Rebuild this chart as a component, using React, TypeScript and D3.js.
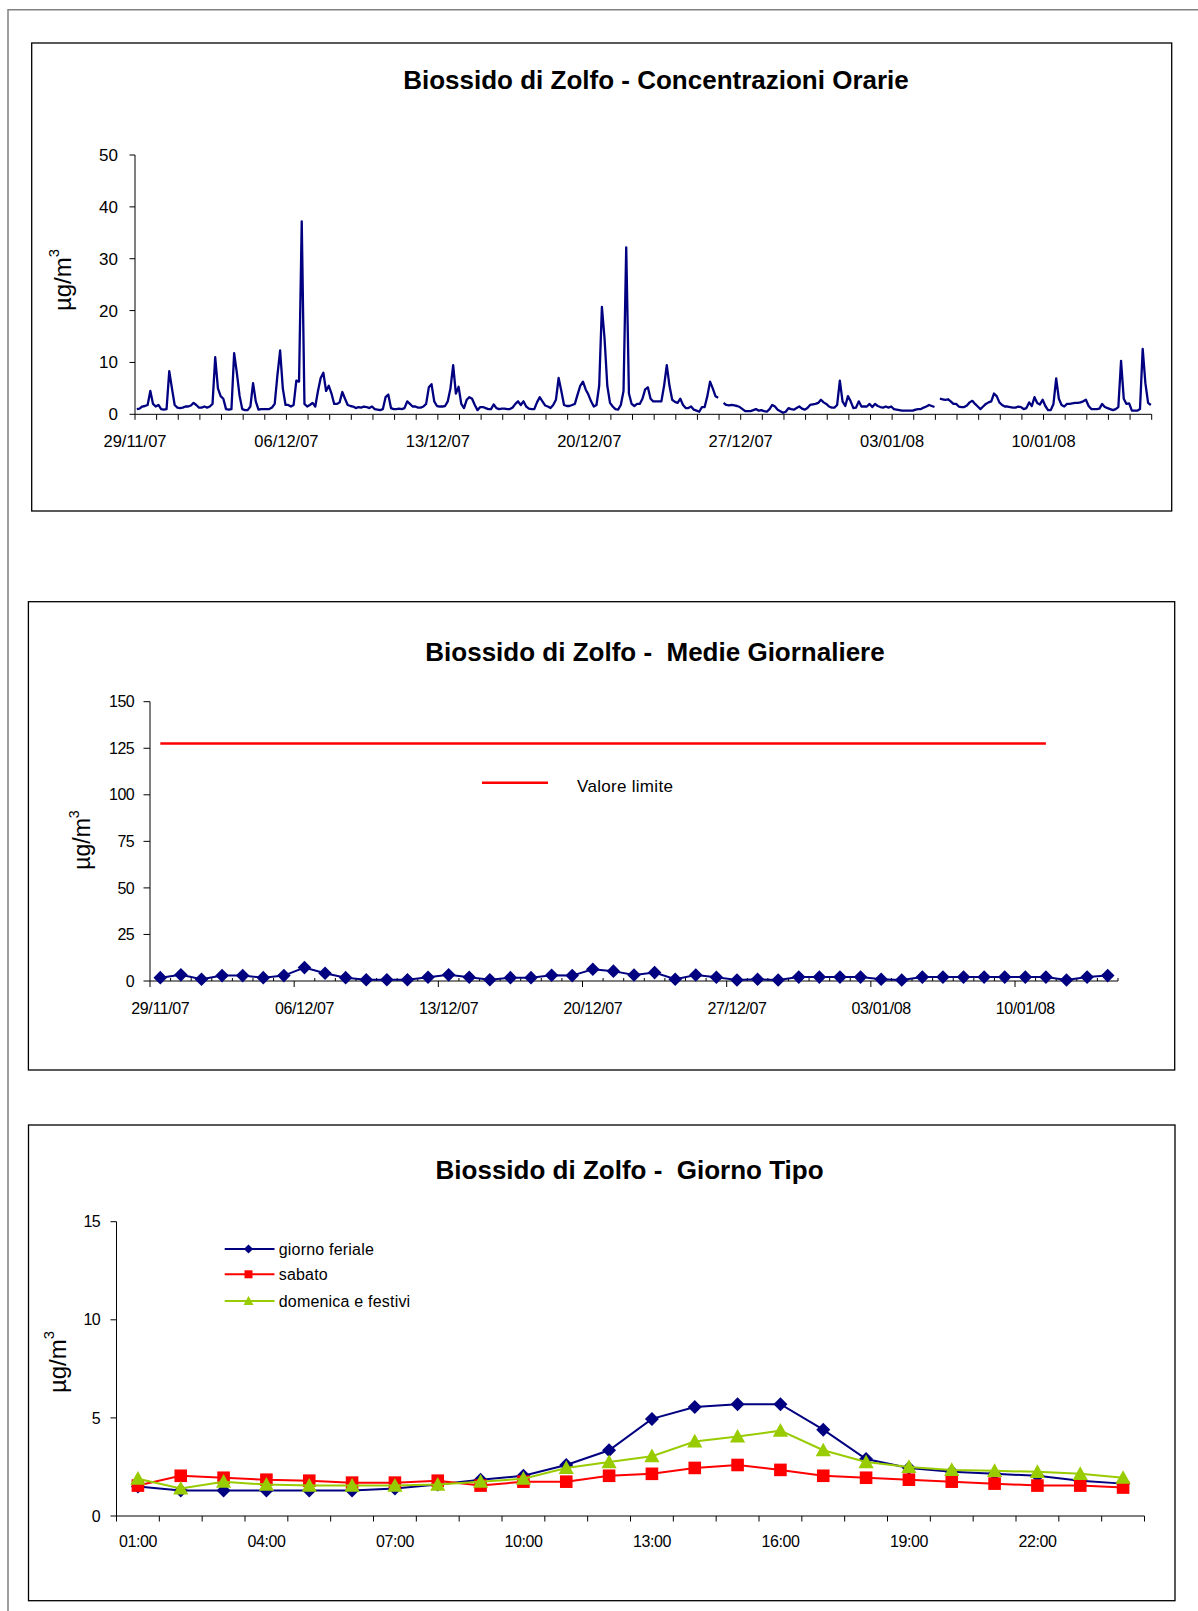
import React from 'react';
import * as d3 from 'd3';

const FONT = "Arial, 'Liberation Sans', Helvetica, sans-serif";

// ---------- DATA ----------
// First day of the series (29/11/2007) and number of days shown
const startDay = new Date(Date.UTC(2007, 10, 29));
const nDays = 47;

// Hourly SO2 (sampled every 3 hours, 8 readings per day), µg/m³; null = missing
const so2ThreeHourly: (number | null)[][] = [
  [1.0, 1.1, 1.5, 1.6, 1.8, 4.5, 2.0, 1.5], // 29/11
  [1.8, 1.0, 0.9, 1.0, 8.3, 5.0, 1.8, 1.3],
  [1.2, 1.3, 1.5, 1.5, 1.7, 2.2, 1.8, 1.3],
  [1.3, 1.5, 1.3, 1.5, 2.0, 11.0, 5.0, 3.5],
  [3.0, 1.0, 0.9, 1.0, 11.8, 8.0, 3.6, 1.0],
  [0.8, 0.8, 1.5, 6.0, 2.5, 0.9, 1.0, 1.0],
  [1.0, 1.0, 1.3, 2.0, 7.5, 12.3, 5.0, 1.8],
  [1.8, 1.5, 1.8, 6.5, 6.3, 37.2, 2.0, 1.5], // 06/12
  [1.8, 2.2, 1.5, 4.5, 7.0, 8.0, 4.5, 5.5],
  [4.0, 2.0, 2.0, 2.3, 4.3, 3.0, 1.8, 1.6],
  [1.5, 1.2, 1.4, 1.3, 1.5, 1.4, 1.2, 1.5],
  [1.0, 0.9, 0.8, 1.0, 3.3, 3.8, 1.2, 1.0],
  [1.0, 1.1, 1.0, 1.2, 2.5, 2.0, 1.5, 1.5],
  [1.3, 1.3, 1.5, 2.0, 5.2, 5.8, 2.5, 1.6],
  [1.5, 1.5, 1.6, 2.5, 5.0, 9.5, 4.0, 5.3], // 13/12
  [2.0, 1.2, 2.8, 3.3, 3.0, 1.8, 0.8, 1.4],
  [1.4, 1.2, 1.0, 1.0, 1.9, 1.2, 1.0, 1.1],
  [1.1, 1.0, 1.0, 1.3, 2.0, 2.5, 1.8, 2.5],
  [1.5, 1.1, 1.0, 1.0, 2.3, 3.3, 2.5, 1.7],
  [1.5, 1.2, 1.8, 2.8, 7.0, 4.5, 1.8, 1.6],
  [1.6, 1.8, 2.0, 3.8, 5.5, 6.3, 4.8, 3.8],
  [2.5, 1.5, 1.8, 5.5, 20.7, 14.5, 5.5, 2.2], // 20/12
  [1.5, 1.0, 0.9, 1.8, 4.5, 32.2, 4.0, 2.0],
  [1.6, 2.0, 2.0, 3.0, 4.8, 5.2, 3.0, 2.5],
  [2.5, 2.5, 2.5, 5.5, 9.5, 5.5, 2.8, 2.4],
  [2.2, 3.0, 1.8, 1.2, 1.2, 1.5, 0.9, 0.7],
  [0.5, 1.4, 1.4, 3.5, 6.3, 5.0, 3.5, 3.2],
  [null, 2.2, 1.8, 1.7, 1.8, 1.7, 1.6, 1.4],
  [1.0, 0.6, 0.6, 0.6, 0.8, 1.0, 0.7, 0.8], // 27/12
  [0.6, 0.5, 1.0, 1.8, 1.5, 0.9, 0.6, 0.3],
  [0.5, 1.2, 1.0, 0.9, 1.2, 1.5, 1.1, 0.9],
  [1.2, 1.8, 1.9, 2.0, 2.2, 2.8, 2.3, 2.0],
  [1.5, 1.3, 1.3, 1.8, 6.5, 2.5, 1.6, 3.5],
  [2.5, 1.2, 1.3, 2.5, 1.5, 1.5, 1.5, 2.0],
  [1.4, 2.0, 1.6, 1.4, 1.3, 1.5, 1.3, 1.5],
  [1.0, 0.9, 0.8, 0.7, 0.7, 0.7, 0.7, 0.7], // 03/01
  [0.9, 1.0, 1.0, 1.3, 1.5, 1.8, 1.6, 1.4],
  [null, 3.0, 2.9, 2.8, 2.9, 2.5, 2.0, 2.0],
  [1.5, 1.4, 1.4, 1.7, 2.3, 2.6, 2.0, 1.5],
  [1.0, 1.5, 2.0, 2.3, 2.5, 4.0, 3.5, 2.3],
  [1.8, 1.5, 1.5, 1.4, 1.3, 1.3, 1.5, 1.4],
  [1.0, 1.2, 2.3, 1.6, 3.3, 2.2, 1.9, 2.8],
  [1.6, 0.8, 0.8, 2.0, 6.9, 3.0, 1.8, 1.5], // 10/01
  [2.0, 2.0, 2.1, 2.2, 2.2, 2.3, 2.5, 2.8],
  [1.6, 1.0, 1.0, 1.0, 1.1, 2.0, 1.4, 1.2],
  [1.0, 0.8, 1.0, 1.4, 10.3, 3.0, 2.0, 2.1],
  [0.7, 0.7, 0.7, 1.0, 12.6, 6.0, 2.2, 1.8],
];
const hourlyTicks = [0, 10, 20, 30, 40, 50];

// Daily means (one per day, starting 29/11/2007)
const dailyMeans = [
  1.8, 3.3, 0.9, 2.9, 2.9, 1.8, 2.9, 7.2, 4.2, 1.8, 0.7, 0.7, 0.7, 2.0, 3.3, 2.0,
  0.7, 1.8, 1.8, 3.1, 2.9, 6.3, 5.3, 3.2, 4.5, 0.9, 3.2, 2.0, 0.5, 0.9, 0.5, 2.1,
  2.1, 2.1, 2.1, 0.9, 0.5, 2.1, 2.1, 2.1, 2.1, 2.1, 2.1, 2.1, 0.5, 2.1, 2.9,
];
const limitValue = 127.5;
const limitDays = 44;
const dailyTicks = [0, 25, 50, 75, 100, 125, 150];

// Typical day
const hourLabels = [
  '01:00', '02:00', '03:00', '04:00', '05:00', '06:00', '07:00', '08:00',
  '09:00', '10:00', '11:00', '12:00', '13:00', '14:00', '15:00', '16:00',
  '17:00', '18:00', '19:00', '20:00', '21:00', '22:00', '23:00', '24:00',
];
const feriale = [1.5, 1.3, 1.3, 1.3, 1.3, 1.3, 1.4, 1.6, 1.85, 2.05, 2.6, 3.35, 4.95, 5.55, 5.7, 5.7, 4.4, 2.9, 2.45, 2.25, 2.15, 2.05, 1.8, 1.65];
const sabato = [1.55, 2.05, 1.95, 1.85, 1.8, 1.7, 1.7, 1.8, 1.55, 1.75, 1.75, 2.05, 2.15, 2.45, 2.6, 2.35, 2.05, 1.95, 1.85, 1.75, 1.65, 1.55, 1.55, 1.45];
const domenica = [1.9, 1.4, 1.75, 1.6, 1.55, 1.55, 1.55, 1.6, 1.75, 1.9, 2.45, 2.75, 3.05, 3.8, 4.05, 4.35, 3.35, 2.75, 2.5, 2.35, 2.3, 2.25, 2.15, 1.95];
const typicalTicks = [0, 5, 10, 15];
const seriesNames = ['giorno feriale', 'sabato', 'domenica e festivi'];

// ---------- STYLE ----------
const NAVY = '#000080';
const RED = '#FF0000';
const GREEN = '#99CC00';
const fmtDate = d3.utcFormat('%d/%m/%y');

const diamond = (r: number) => `M0,${-r}L${r},0L0,${r}L${-r},0Z`;
const square = (r: number) => `M${-r},${-r}H${r}V${r}H${-r}Z`;
const triangle = (r: number) => `M0,${-r}L${r},${r * 0.8}L${-r},${r * 0.8}Z`;

function YLabel({ x, y, size }: { x: number; y: number; size: number }) {
  return (
    <text transform={`translate(${x},${y}) rotate(-90)`} textAnchor="middle" fontSize={size} fill="#000">
      µg/m<tspan dy={-size * 0.5} fontSize={size * 0.62}>3</tspan>
    </text>
  );
}

const pre = { whiteSpace: 'pre' as const };

function HourlyChart() {
  const endDay = d3.utcDay.offset(startDay, nDays);
  const x = d3.scaleUtc().domain([startDay, endDay]).range([135, 1151.7]);
  const y = d3.scaleLinear().domain([0, 50]).range([414.3, 155]);
  const pts: { t: Date; v: number | null }[] = [];
  so2ThreeHourly.forEach((day, d) =>
    day.forEach((v, k) => {
      pts.push({ t: d3.utcHour.offset(d3.utcDay.offset(startDay, d), 3 * k + 2), v });
    })
  );
  const line = d3
    .line<{ t: Date; v: number | null }>()
    .defined((p) => p.v != null)
    .x((p) => x(p.t))
    .y((p) => y(p.v as number));
  const dayTicks = d3.utcDay.range(startDay, d3.utcDay.offset(endDay, 1));
  const y0 = y(0);
  return (
    <g>
      <rect x={31.7} y={43} width={1140} height={468} fill="none" stroke="#000" strokeWidth={1.3} />
      <text x={656} y={80} textAnchor="middle" dy="0.35em" fontSize={26} fontWeight="bold" style={pre}>
        Biossido di Zolfo - Concentrazioni Orarie
      </text>
      <YLabel x={71} y={280} size={24} />
      <line x1={135} x2={135} y1={y(50)} y2={y0} stroke="#000" />
      {hourlyTicks.map((t) => (
        <g key={t}>
          <line x1={129.5} x2={135} y1={y(t)} y2={y(t)} stroke="#000" />
          <text x={118} y={y(t)} dy="0.35em" textAnchor="end" fontSize={17}>{t}</text>
        </g>
      ))}
      <line x1={135} x2={x(endDay)} y1={y0} y2={y0} stroke="#000" />
      {dayTicks.map((t, i) => (
        <g key={i}>
          <line x1={x(t)} x2={x(t)} y1={y0} y2={y0 + 5.5} stroke="#000" />
          {i % 7 === 0 && i < nDays ? (
            <text x={x(t)} y={441.7} dy="0.35em" textAnchor="middle" fontSize={16.5}>{fmtDate(t)}</text>
          ) : null}
        </g>
      ))}
      <path d={line(pts) || ''} fill="none" stroke={NAVY} strokeWidth={2.3} strokeLinejoin="round" />
    </g>
  );
}

function DailyChart() {
  const idx = dailyMeans.map((_, i) => i);
  const x = d3.scalePoint<number>().domain(idx).range([150, 1118]).padding(0.5);
  const step = x.step();
  const y = d3.scaleLinear().domain([0, 150]).range([981, 701.7]);
  const y0 = y(0);
  const dates = idx.map((i) => d3.utcDay.offset(startDay, i));
  const line = d3
    .line<number>()
    .x((_, i) => x(i) as number)
    .y((v) => y(v));
  const limitPts = d3.range(limitDays).map(() => limitValue);
  return (
    <g>
      <rect x={28.4} y={601.7} width={1146.3} height={468.3} fill="none" stroke="#000" strokeWidth={1.3} />
      <text x={655} y={651.7} textAnchor="middle" dy="0.35em" fontSize={26} fontWeight="bold" style={pre}>
        Biossido di Zolfo -  Medie Giornaliere
      </text>
      <YLabel x={90} y={840} size={23} />
      <line x1={150} x2={150} y1={y(150)} y2={y0} stroke="#000" />
      {dailyTicks.map((t) => (
        <g key={t}>
          <line x1={143.5} x2={150} y1={y(t)} y2={y(t)} stroke="#000" />
          <text x={134} y={y(t)} dy="0.35em" textAnchor="end" fontSize={16} letterSpacing={-0.6}>{t}</text>
        </g>
      ))}
      <line x1={150} x2={150 + step * dailyMeans.length} y1={y0} y2={y0} stroke="#000" />
      {d3.range(dailyMeans.length + 1).map((i) => {
        const bx = 150 + step * i;
        return i % 7 === 0 ? (
          <line key={i} x1={bx} x2={bx} y1={y0} y2={y0 + 6} stroke="#000" />
        ) : (
          <line key={i} x1={bx} x2={bx} y1={y0 - 3} y2={y0} stroke="#000" />
        );
      })}
      {idx
        .filter((i) => i % 7 === 0)
        .map((i) => (
          <text key={i} x={x(i)} y={1008.3} dy="0.35em" textAnchor="middle" fontSize={16} letterSpacing={-0.4}>
            {fmtDate(dates[i])}
          </text>
        ))}
      <path d={line(limitPts) || ''} fill="none" stroke={RED} strokeWidth={2.5} />
      <line x1={482} x2={548} y1={782.7} y2={782.7} stroke={RED} strokeWidth={2.5} />
      <text x={577} y={786} dy="0.35em" fontSize={17} letterSpacing={0.3}>Valore limite</text>
      <path d={line(dailyMeans) || ''} fill="none" stroke={NAVY} strokeWidth={2} />
      {dailyMeans.map((v, i) => (
        <path key={i} d={diamond(6.8)} transform={`translate(${x(i)},${y(v)})`} fill={NAVY} />
      ))}
    </g>
  );
}

function TypicalDayChart() {
  const x = d3.scalePoint<string>().domain(hourLabels).range([116.5, 1144.5]).padding(0.5);
  const step = x.step();
  const y = d3.scaleLinear().domain([0, 15]).range([1516, 1221.7]);
  const y0 = y(0);
  const line = d3
    .line<number>()
    .x((_, i) => x(hourLabels[i]) as number)
    .y((v) => y(v));
  const series = [
    { name: seriesNames[0], data: feriale, color: NAVY, mark: diamond },
    { name: seriesNames[1], data: sabato, color: RED, mark: square },
    { name: seriesNames[2], data: domenica, color: GREEN, mark: triangle },
  ];
  const markSize = [7, 6.3, 7.6];
  const legendMark = [4.6, 4, 5];
  const legendY = [1249, 1274.3, 1301];
  return (
    <g>
      <rect x={28.5} y={1125} width={1146.5} height={475.7} fill="none" stroke="#000" strokeWidth={1.3} />
      <text x={629.6} y={1170} textAnchor="middle" dy="0.35em" fontSize={26} fontWeight="bold" style={pre}>
        Biossido di Zolfo -  Giorno Tipo
      </text>
      <YLabel x={66} y={1362} size={24} />
      <line x1={116.5} x2={116.5} y1={y(15)} y2={y0} stroke="#000" />
      {typicalTicks.map((t) => (
        <g key={t}>
          <line x1={110.5} x2={116.5} y1={y(t)} y2={y(t)} stroke="#000" />
          <text x={100} y={y(t)} dy="0.35em" textAnchor="end" fontSize={16} letterSpacing={-0.6}>{t}</text>
        </g>
      ))}
      <line x1={116.5} x2={116.5 + step * hourLabels.length} y1={y0} y2={y0} stroke="#000" />
      {d3.range(hourLabels.length + 1).map((i) => (
        <line key={i} x1={116.5 + step * i} x2={116.5 + step * i} y1={y0} y2={y0 + 5.5} stroke="#000" />
      ))}
      {hourLabels
        .filter((_, i) => i % 3 === 0)
        .map((h) => (
          <text key={h} x={x(h)} y={1541} dy="0.35em" textAnchor="middle" fontSize={16} letterSpacing={-0.4}>
            {h}
          </text>
        ))}
      {series.map((s, si) => (
        <g key={s.name}>
          <path d={line(s.data) || ''} fill="none" stroke={s.color} strokeWidth={2} />
          {s.data.map((v, i) => (
            <path key={i} d={s.mark(markSize[si])} transform={`translate(${x(hourLabels[i])},${y(v)})`} fill={s.color} />
          ))}
        </g>
      ))}
      {series.map((s, si) => (
        <g key={'lg' + s.name}>
          <line x1={224.7} x2={274.5} y1={legendY[si]} y2={legendY[si]} stroke={s.color} strokeWidth={2} />
          <path d={s.mark(legendMark[si])} transform={`translate(248.5,${legendY[si]})`} fill={s.color} />
          <text x={278.7} y={legendY[si]} dy="0.35em" fontSize={16} letterSpacing={0.2}>{s.name}</text>
        </g>
      ))}
    </g>
  );
}

export default function App() {
  return (
    <svg
      width={1198}
      height={1611}
      viewBox="0 0 1198 1611"
      style={{ position: 'absolute', left: 0, top: 0, display: 'block', background: '#fff' }}
      fontFamily={FONT}
    >
      <rect x={0} y={0} width={1198} height={1611} fill="#fff" />
      <path d="M8,1611V9.7H1198" fill="none" stroke="#808080" strokeWidth={1.5} />
      <HourlyChart />
      <DailyChart />
      <TypicalDayChart />
    </svg>
  );
}
